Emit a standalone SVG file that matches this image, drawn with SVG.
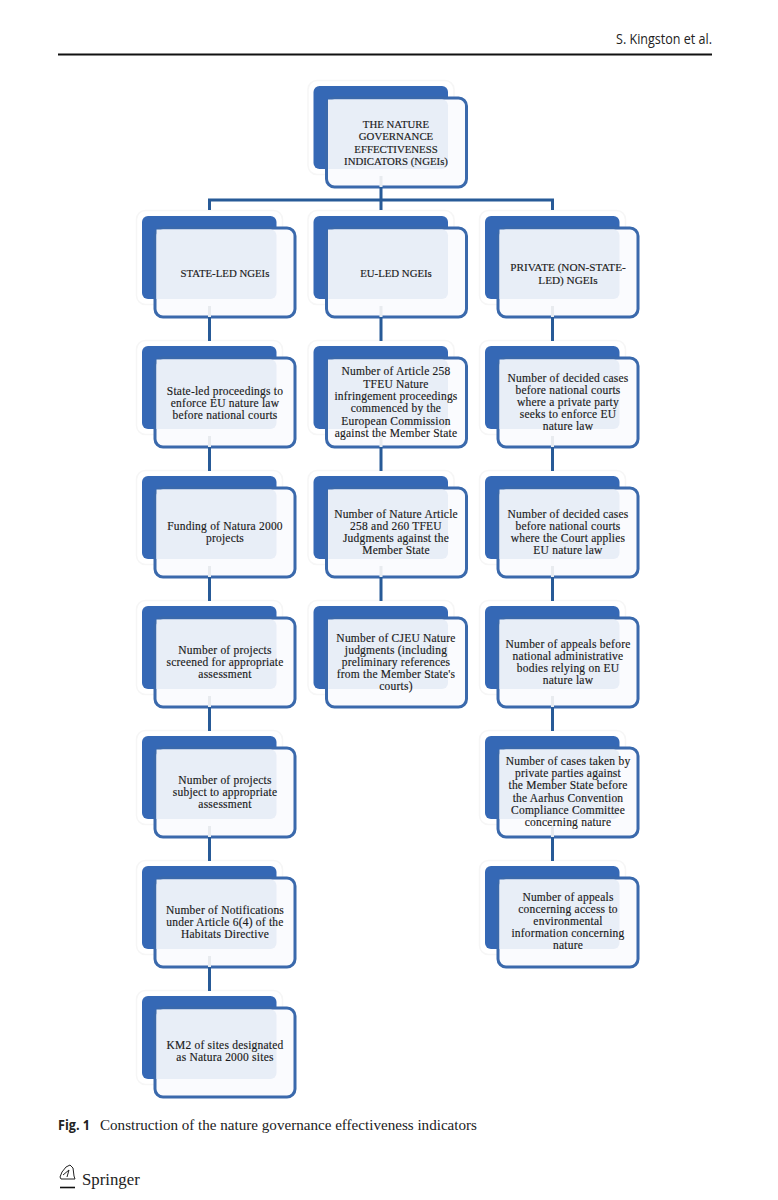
<svg xmlns="http://www.w3.org/2000/svg" width="778" height="1200" viewBox="0 0 778 1200">
<style>
.halo{fill:#fff;stroke:#f6f6f6;stroke-width:1.5}
.back{fill:#3568b5}
.front{fill:#fafbfe;stroke:#3a69ac;stroke-width:3}
.over{fill:#e8eef7}
.lbl{font-family:"Liberation Serif",serif;font-size:11.5px;letter-spacing:.22px;fill:#1a1a1a;text-anchor:middle;stroke:#1a1a1a;stroke-width:.15}
.caps{font-size:10.8px;letter-spacing:0}
.wide{font-size:11.2px;letter-spacing:0}
.cn{fill:none;stroke:#275a97;stroke-width:3}
.fade{fill:none;stroke:#e8ebef;stroke-width:3}
.cap{font-family:"Liberation Serif",serif;font-size:15.1px;fill:#222}
.brand{font-size:16.8px}
.sans{font-family:"Open Sans","Liberation Sans",sans-serif;fill:#222}
</style>
<defs>
<g id="box">
<rect class="halo" x="-5.500" y="-5.500" width="146" height="94" rx="9"/>
<rect class="back" width="134.500" height="83" rx="6"/>
<rect class="front" x="13" y="12" width="140" height="89" rx="8"/>
<path class="over" d="M14.500 13.500H128.500a6 6 0 0 1 6 6V77a6 6 0 0 1-6 6H14.500Z"/>
</g>
</defs>
<rect width="778" height="1200" fill="#fff"/>
<g id="page-header">
<text class="sans" x="712" y="44" text-anchor="end" font-size="14" textLength="96" lengthAdjust="spacingAndGlyphs">S. Kingston et al.</text>
<line x1="58" y1="54.500" x2="712" y2="54.500" stroke="#111" stroke-width="2"/>
</g>
<g id="n-root"><use href="#box" x="313.500" y="86"/>
<text class="lbl caps"><tspan x="396" y="128">THE NATURE</tspan><tspan x="396" y="140">GOVERNANCE</tspan><tspan x="396" y="152.500">EFFECTIVENESS</tspan><tspan x="396" y="164.500">INDICATORS (NGEIs)</tspan></text></g>
<g id="n-state"><use href="#box" x="142" y="216"/>
<text class="lbl caps"><tspan x="225" y="277">STATE-LED NGEIs</tspan></text></g>
<g id="n-eu"><use href="#box" x="313.500" y="216"/>
<text class="lbl caps"><tspan x="396" y="277">EU-LED NGEIs</tspan></text></g>
<g id="n-private"><use href="#box" x="485" y="216"/>
<text class="lbl wide"><tspan x="568" y="271">PRIVATE (NON-STATE-</tspan><tspan x="568" y="283.500">LED) NGEIs</tspan></text></g>
<g id="n-s1"><use href="#box" x="142" y="346"/>
<text class="lbl"><tspan x="225" y="395">State-led proceedings to</tspan><tspan x="225" y="407">enforce EU nature law</tspan><tspan x="225" y="419">before national courts</tspan></text></g>
<g id="n-s2"><use href="#box" x="142" y="476"/>
<text class="lbl"><tspan x="225" y="530">Funding of Natura 2000</tspan><tspan x="225" y="542">projects</tspan></text></g>
<g id="n-s3"><use href="#box" x="142" y="606"/>
<text class="lbl"><tspan x="225" y="654">Number of projects</tspan><tspan x="225" y="666">screened for appropriate</tspan><tspan x="225" y="678">assessment</tspan></text></g>
<g id="n-s4"><use href="#box" x="142" y="736"/>
<text class="lbl"><tspan x="225" y="784">Number of projects</tspan><tspan x="225" y="796">subject to appropriate</tspan><tspan x="225" y="808">assessment</tspan></text></g>
<g id="n-s5"><use href="#box" x="142" y="866"/>
<text class="lbl"><tspan x="225" y="914">Number of Notifications</tspan><tspan x="225" y="926">under Article 6(4) of the</tspan><tspan x="225" y="938">Habitats Directive</tspan></text></g>
<g id="n-s6"><use href="#box" x="142" y="996"/>
<text class="lbl"><tspan x="225" y="1049">KM2 of sites designated</tspan><tspan x="225" y="1061">as Natura 2000 sites</tspan></text></g>
<g id="n-e1"><use href="#box" x="313.500" y="346"/>
<text class="lbl"><tspan x="396" y="375">Number of Article 258</tspan><tspan x="396" y="388">TFEU Nature</tspan><tspan x="396" y="400">infringement proceedings</tspan><tspan x="396" y="412">commenced by the</tspan><tspan x="396" y="425">European Commission</tspan><tspan x="396" y="437">against the Member State</tspan></text></g>
<g id="n-e2"><use href="#box" x="313.500" y="476"/>
<text class="lbl"><tspan x="396" y="518">Number of Nature Article</tspan><tspan x="396" y="530">258 and 260 TFEU</tspan><tspan x="396" y="542">Judgments against the</tspan><tspan x="396" y="554">Member State</tspan></text></g>
<g id="n-e3"><use href="#box" x="313.500" y="606"/>
<text class="lbl"><tspan x="396" y="642">Number of CJEU Nature</tspan><tspan x="396" y="654">judgments (including</tspan><tspan x="396" y="666">preliminary references</tspan><tspan x="396" y="678">from the Member State's</tspan><tspan x="396" y="690">courts)</tspan></text></g>
<g id="n-p1"><use href="#box" x="485" y="346"/>
<text class="lbl"><tspan x="568" y="382">Number of decided cases</tspan><tspan x="568" y="394">before national courts</tspan><tspan x="568" y="406">where a private party</tspan><tspan x="568" y="418">seeks to enforce EU</tspan><tspan x="568" y="430">nature law</tspan></text></g>
<g id="n-p2"><use href="#box" x="485" y="476"/>
<text class="lbl"><tspan x="568" y="518">Number of decided cases</tspan><tspan x="568" y="530">before national courts</tspan><tspan x="568" y="542">where the Court applies</tspan><tspan x="568" y="554">EU nature law</tspan></text></g>
<g id="n-p3"><use href="#box" x="485" y="606"/>
<text class="lbl"><tspan x="568" y="648">Number of appeals before</tspan><tspan x="568" y="660">national administrative</tspan><tspan x="568" y="672">bodies relying on EU</tspan><tspan x="568" y="684">nature law</tspan></text></g>
<g id="n-p4"><use href="#box" x="485" y="736"/>
<text class="lbl"><tspan x="568" y="765">Number of cases taken by</tspan><tspan x="568" y="777">private parties against</tspan><tspan x="568" y="789">the Member State before</tspan><tspan x="568" y="802">the Aarhus Convention</tspan><tspan x="568" y="814">Compliance Committee</tspan><tspan x="568" y="826">concerning nature</tspan></text></g>
<g id="n-p5"><use href="#box" x="485" y="866"/>
<text class="lbl"><tspan x="568" y="901">Number of appeals</tspan><tspan x="568" y="913">concerning access to</tspan><tspan x="568" y="925">environmental</tspan><tspan x="568" y="937">information concerning</tspan><tspan x="568" y="949">nature</tspan></text></g>
<g id="connectors">
<path class="fade" d="M381 176V187M209.500 306V317M381 306V317M552.500 306V317M209.500 436V447M381 436V447M552.500 436V447M209.500 566V577M381 566V577M552.500 566V577M209.500 696V707M552.500 696V707M209.500 826V837M552.500 826V837M209.500 956V967"/>
<path class="cn" d="M381 187V210M209.500 210V200H552.500V210"/>
<path class="cn" d="M209.500 317V341M381 317V341M552.500 317V341M209.500 447V471M381 447V471M552.500 447V471M209.500 577V601M381 577V601M552.500 577V601M209.500 707V731M552.500 707V731M209.500 837V861M552.500 837V861M209.500 967V991"/>
</g>
<g id="caption">
<text class="sans" x="58" y="1130" font-size="13.500" font-weight="700" textLength="32" lengthAdjust="spacingAndGlyphs">Fig. 1</text>
<text class="cap" x="100" y="1130">Construction of the nature governance effectiveness indicators</text>
</g>
<g id="publisher">
<path d="M60 1177l2-5 4-5 4-2 3 3 1 8 1 3-14 0zM63 1175l6-5-2 7" fill="none" stroke="#222" stroke-width="1"/>
<line x1="60" y1="1187.500" x2="75" y2="1187.500" stroke="#111" stroke-width="1.600"/>
<text class="cap brand" x="82" y="1185">Springer</text>
</g>
</svg>
